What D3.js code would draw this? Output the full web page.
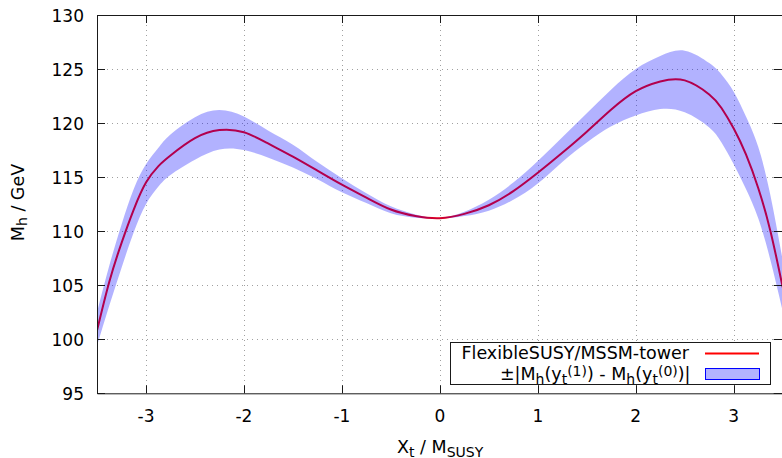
<!DOCTYPE html>
<html>
<head>
<meta charset="utf-8">
<script src="https://cdn.jsdelivr.net/npm/d3@7"></script>
<style>
  html, body { margin: 0; padding: 0; background: #fff; }
  svg { display: block; font-family: "DejaVu Sans", sans-serif; }
</style>
</head>
<body>
<svg id="chart" width="782" height="458"></svg>
<script>
// X_t / M_SUSY sample points
const xt = [-3.5, -3.375, -3.25, -3.125, -3.0, -2.875, -2.75, -2.5, -2.25, -2.0, -1.75, -1.5, -1.25, -1.0, -0.75, -0.5, -0.25,
            0, 0.25, 0.5, 0.75, 1.0, 1.25, 1.5, 1.75, 2.0, 2.25, 2.5, 2.75, 2.875, 3.0, 3.125, 3.25, 3.375, 3.5];
// Higgs mass from FlexibleSUSY/MSSM-tower (GeV)
const mh = [100.8, 105.3, 108.9, 112.0, 114.5, 116.0, 117.0, 118.6, 119.35, 119.15, 118.1, 116.9, 115.6, 114.3, 113.1, 112.0, 111.4,
            111.2, 111.6, 112.4, 113.7, 115.4, 117.25, 119.2, 121.25, 122.95, 123.85, 123.95, 122.65, 121.4, 119.5, 117.1, 114.0, 110.0, 104.8];
// upper / lower edge of the uncertainty band
const mhHigh = [102.5, 106.8, 110.6, 113.9, 116.2, 117.7, 118.95, 120.55, 121.2, 120.6, 119.3, 118.0, 116.4, 114.9, 113.5, 112.3, 111.55,
                111.25, 111.8, 112.9, 114.5, 116.5, 118.7, 120.9, 123.1, 125.0, 126.2, 126.7, 125.55, 124.5, 122.9, 120.6, 117.8, 113.3, 107.3];
const mhLow = [99.4, 103.1, 106.6, 109.9, 112.5, 114.1, 115.2, 116.6, 117.55, 117.5, 116.8, 115.9, 114.8, 113.6, 112.6, 111.65, 111.25,
               111.15, 111.4, 111.9, 112.9, 114.4, 116.4, 118.2, 119.7, 120.7, 121.3, 121.0, 119.6, 118.2, 116.2, 113.9, 111.2, 107.3, 102.6];

const xTicks = [-3, -2, -1, 0, 1, 2, 3];
const yTicks = [95, 100, 105, 110, 115, 120, 125, 130];

const svg = d3.select("#chart");
const pLeft = 97, pRight = 782.7, pTop = 15, pBottom = 393.3;

const x = d3.scaleLinear().domain([-3.5, 3.5]).range([pLeft, pRight]);
const y = d3.scaleLinear().domain([95, 130]).range([pBottom, pTop]);

svg.append("defs").append("clipPath").attr("id", "plotclip")
  .append("rect").attr("x", pLeft).attr("y", pTop).attr("width", pRight - pLeft).attr("height", pBottom - pTop);

// dotted grid
const grid = svg.append("g").attr("stroke", "#a0a0a0").attr("stroke-width", 1).attr("stroke-dasharray", "1,4");
grid.selectAll("line.gx").data(xTicks).join("line")
  .attr("x1", d => Math.round(x(d)) + 0.5).attr("x2", d => Math.round(x(d)) + 0.5)
  .attr("y1", pTop).attr("y2", pBottom);
grid.selectAll("line.gy").data(yTicks.filter(d => d > 95 && d < 130)).join("line")
  .attr("x1", pLeft).attr("x2", pRight)
  .attr("y1", d => Math.round(y(d)) + 0.5).attr("y2", d => Math.round(y(d)) + 0.5);

const pts = xt.map((v, i) => ({ x: v, m: mh[i], hi: mhHigh[i], lo: mhLow[i] }));
const plot = svg.append("g").attr("clip-path", "url(#plotclip)");

// central value
const line = d3.line().x(d => x(d.x)).y(d => y(d.m)).curve(d3.curveNatural);
plot.append("path").datum(pts).attr("d", line)
  .attr("fill", "none").attr("stroke", "#ff0000").attr("stroke-width", 2);

// translucent uncertainty band drawn over the line
const area = d3.area().x(d => x(d.x)).y0(d => y(d.lo)).y1(d => y(d.hi)).curve(d3.curveNatural);
plot.append("path").datum(pts).attr("d", area)
  .attr("fill", "rgba(0,0,255,0.3)").attr("stroke", "none");

// axes (ticks on all four sides, pointing inward)
const axes = svg.append("g").attr("stroke", "#1a1a1a").attr("stroke-width", 1);
axes.append("path").attr("fill", "none")
  .attr("d", `M${pRight},${pTop + 0.5}H${pLeft + 0.5}V${pBottom + 0.5}H${pRight}`);
const tl = 8;
xTicks.forEach(t => {
  const px = Math.round(x(t)) + 0.5;
  axes.append("line").attr("x1", px).attr("x2", px).attr("y1", pBottom).attr("y2", pBottom - tl);
  axes.append("line").attr("x1", px).attr("x2", px).attr("y1", pTop).attr("y2", pTop + tl);
});
yTicks.forEach(t => {
  const py = Math.round(y(t)) + 0.5;
  axes.append("line").attr("x1", pLeft).attr("x2", pLeft + tl).attr("y1", py).attr("y2", py);
  axes.append("line").attr("x1", pRight - tl - 1).attr("x2", pRight).attr("y1", py).attr("y2", py);
});

const labels = svg.append("g").attr("font-size", 17).attr("fill", "#000");
labels.selectAll("text.xt").data(xTicks).join("text")
  .attr("x", d => x(d)).attr("y", 422).attr("text-anchor", "middle").text(d => d);
labels.selectAll("text.yt").data(yTicks).join("text")
  .attr("x", 84).attr("y", d => y(d) + 7).attr("text-anchor", "end").text(d => d);

// text with sub/superscripts
function rich(sel, parts) {
  let cur = 0;
  parts.forEach(p => {
    const target = p.sub ? 3.5 : p.sup ? -4 : 0;
    const ts = sel.append("tspan").attr("dy", target - cur).text(p.t);
    if (p.sub || p.sup) ts.attr("font-size", "0.8em");
    cur = target;
  });
}

rich(labels.append("text").attr("x", 397).attr("y", 453).attr("font-size", 17.5),
  [{ t: "X" }, { t: "t", sub: true }, { t: " / M" }, { t: "SUSY", sub: true }]);

rich(labels.append("text").attr("transform", "translate(23.5,202.5) rotate(-90)")
    .attr("text-anchor", "middle").attr("font-size", 17.5),
  [{ t: "M" }, { t: "h", sub: true }, { t: " / GeV" }]);

// legend
const lg = svg.append("g");
lg.append("rect").attr("x", 450.5).attr("y", 342.5).attr("width", 320).attr("height", 42)
  .attr("fill", "#fff").attr("stroke", "#1a1a1a").attr("stroke-width", 1);
lg.append("text").attr("x", 689).attr("y", 358.5).attr("text-anchor", "end").attr("font-size", 17.5)
  .text("FlexibleSUSY/MSSM-tower");
lg.append("line").attr("x1", 705).attr("x2", 759).attr("y1", 353.5).attr("y2", 353.5)
  .attr("stroke", "#ff0000").attr("stroke-width", 2);
rich(lg.append("text").attr("x", 690.5).attr("y", 380).attr("text-anchor", "end").attr("font-size", 17.5),
  [{ t: "\u00b1|M" }, { t: "h", sub: true }, { t: "(y" }, { t: "t", sub: true }, { t: "(1)", sup: true },
   { t: ") - M" }, { t: "h", sub: true }, { t: "(y" }, { t: "t", sub: true }, { t: "(0)", sup: true }, { t: ")|" }]);
lg.append("rect").attr("x", 705.5).attr("y", 368.5).attr("width", 54).attr("height", 11)
  .attr("fill", "rgba(0,0,255,0.3)").attr("stroke", "#0000ff").attr("stroke-width", 1);
</script>
</body>
</html>
